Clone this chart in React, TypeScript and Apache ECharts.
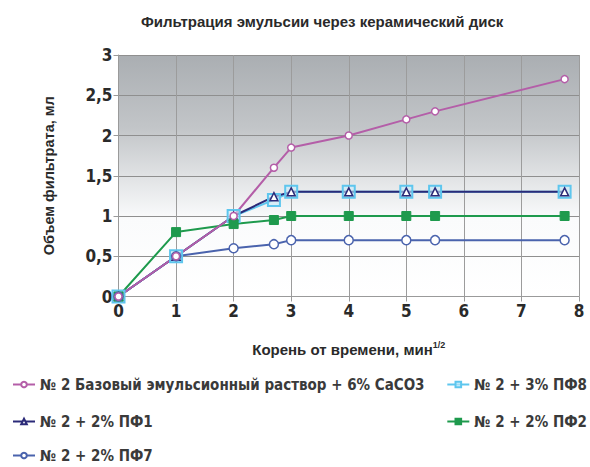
import React, { useEffect, useRef } from "react";
import * as echarts from "echarts";

const xValues = [0, 1, 2, 2.7, 3, 4, 5, 5.5, 7.75];
const baseSeries = [0, 0.5, 1.0, 1.6, 1.85, 2.0, 2.2, 2.3, 2.7];
const pf8 = [0, 0.5, 1.0, 1.2, 1.3, 1.3, 1.3, 1.3, 1.3];
const pf1 = [0, 0.5, 1.0, 1.24, 1.3, 1.3, 1.3, 1.3, 1.3];
const pf2 = [0, 0.8, 0.9, 0.95, 1.0, 1.0, 1.0, 1.0, 1.0];
const pf7 = [0, 0.5, 0.6, 0.65, 0.7, 0.7, 0.7, 0.7, 0.7];

const names = [
  "№ 2 Базовый эмульсионный раствор + 6% CaCO3",
  "№ 2 + 3% ПФ8",
  "№ 2 + 2% ПФ1",
  "№ 2 + 2% ПФ2",
  "№ 2 + 2% ПФ7",
];

const FONT = "'Liberation Sans Narrow', 'Arial Narrow', 'DejaVu Sans Condensed', sans-serif";
const SANS = "'Liberation Sans', Arial, sans-serif";

const toPairs = (ys: number[]) => xValues.map((x, i) => [x, ys[i]]);

export default function App() {
  const ref = useRef<HTMLDivElement>(null);
  useEffect(() => {
    if (!ref.current) return;
    const chart = echarts.init(ref.current, null, { renderer: "svg" });
    const legendText = { fontFamily: FONT, fontWeight: "bold", fontSize: 15, color: "#3a3a3a" };
    const legendBase = {
      itemWidth: 22,
      itemHeight: 7,
      itemGap: 6,
      textStyle: legendText,
      padding: 0,
    };
    chart.setOption({
      animation: false,
      backgroundColor: "#ffffff",
      title: {
        text: "Фильтрация эмульсии через керамический диск",
        left: 136,
        top: 9,
        textStyle: { fontFamily: SANS, fontWeight: "bold", fontSize: 15, color: "#2a2a2a" },
      },
      legend: [
        { ...legendBase, data: [names[0]], left: 12, top: 377 },
        { ...legendBase, data: [names[1]], right: 3, top: 377 },
        { ...legendBase, data: [names[2]], left: 12, top: 414 },
        { ...legendBase, data: [names[3]], right: 3, top: 414 },
        { ...legendBase, data: [names[4]], left: 12, top: 448 },
      ],
      grid: {
        left: 118.5,
        right: 11,
        top: 55,
        bottom: 170.5,
        show: true,
        borderWidth: 0,
        backgroundColor: new echarts.graphic.LinearGradient(0, 0, 0, 1, [
          { offset: 0, color: "#aaaeb2" },
          { offset: 0.3, color: "#c2c5c8" },
          { offset: 0.5, color: "#e0e2e4" },
          { offset: 0.68, color: "#fafbfc" },
          { offset: 1, color: "#ffffff" },
        ]),
      },
      xAxis: {
        type: "value",
        min: 0,
        max: 8,
        interval: 1,
        name: "Корень от времени, мин{sup|1/2}",
        nameLocation: "middle",
        nameGap: 44,
        nameTextStyle: {
          fontFamily: SANS,
          fontWeight: "bold",
          fontSize: 15,
          color: "#2a2a2a",
          rich: {
            sup: { fontSize: 9, fontWeight: "bold", verticalAlign: "top", padding: [0, 0, 9, 0], fontFamily: SANS, color: "#2a2a2a" },
          },
        },
        axisLine: { show: true, lineStyle: { color: "#9a9a9a", width: 1 } },
        axisTick: { show: true, length: 5, lineStyle: { color: "#9a9a9a" } },
        axisLabel: { fontFamily: FONT, fontWeight: "bold", fontSize: 17, color: "#2a2a2a", margin: 6 },
        splitLine: { show: true, lineStyle: { color: "#9c9c9c", width: 1 } },
      },
      yAxis: {
        type: "value",
        min: 0,
        max: 3,
        interval: 0.5,
        name: "Объем фильтрата, мл",
        nameLocation: "middle",
        nameGap: 62,
        nameTextStyle: {
          fontFamily: SANS,
          fontWeight: "bold",
          fontSize: 14.5,
          color: "#2a2a2a",
        },
        axisLine: { show: true, lineStyle: { color: "#9a9a9a", width: 1 } },
        axisTick: { show: true, length: 5, lineStyle: { color: "#9a9a9a" } },
        axisLabel: {
          fontFamily: FONT,
          fontWeight: "bold",
          fontSize: 17,
          color: "#2a2a2a",
          margin: 6,
          formatter: (v: number) => String(v).replace(".", ","),
        },
        splitLine: { show: true, lineStyle: { color: "#8f8f8f", width: 1 } },
      },
      series: [
        {
          name: names[1],
          type: "line",
          data: toPairs(pf8),
          color: "#5ec6ee",
          symbol: "rect",
          symbolSize: 12,
          itemStyle: { color: "rgba(200,235,250,0.6)", borderColor: "#5ec6ee", borderWidth: 2 },
          lineStyle: { color: "#5ec6ee", width: 2 },
        },
        {
          name: names[2],
          type: "line",
          data: toPairs(pf1),
          color: "#2b2a78",
          symbol: "triangle",
          symbolSize: 8,
          itemStyle: { color: "#ffffff", borderColor: "#2b2a78", borderWidth: 1.5 },
          lineStyle: { color: "#2b2a78", width: 2 },
        },
        {
          name: names[3],
          type: "line",
          data: toPairs(pf2),
          color: "#1e9a4d",
          symbol: "rect",
          symbolSize: 9,
          itemStyle: { color: "#1e9a4d", borderColor: "#1e9a4d", borderWidth: 1 },
          lineStyle: { color: "#1e9a4d", width: 2 },
        },
        {
          name: names[4],
          type: "line",
          data: toPairs(pf7),
          color: "#4a63ad",
          symbol: "circle",
          symbolSize: 9,
          itemStyle: { color: "#ffffff", borderColor: "#4a63ad", borderWidth: 1.5 },
          lineStyle: { color: "#4a63ad", width: 2 },
        },
        {
          name: names[0],
          type: "line",
          data: toPairs(baseSeries),
          color: "#b45ea8",
          symbol: "circle",
          symbolSize: 7,
          itemStyle: { color: "#ffffff", borderColor: "#b45ea8", borderWidth: 1.5 },
          lineStyle: { color: "#b45ea8", width: 2 },
        },
      ],
    });
    return () => chart.dispose();
  }, []);
  return <div ref={ref} style={{ width: 590, height: 467, position: "absolute", left: 0, top: 0 }} />;
}
